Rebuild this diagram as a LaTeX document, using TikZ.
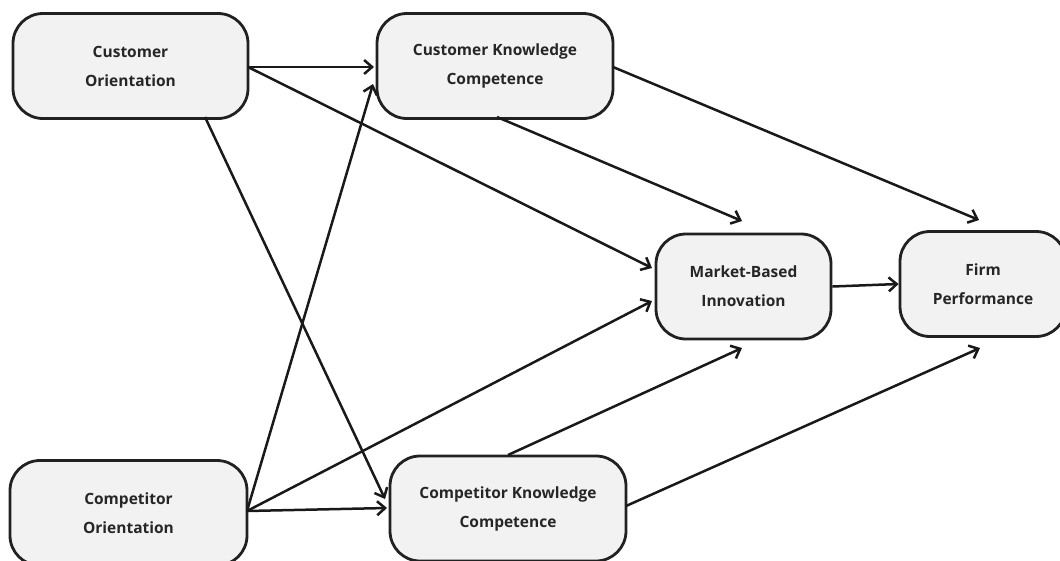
\documentclass[tikz,border=0pt]{standalone}
\usepackage{fontspec}
\setmainfont{Open Sans}[BoldFont={Open Sans Bold}]
\usetikzlibrary{arrows.meta}
\begin{document}
\begin{tikzpicture}[x=1pt,y=-1pt]
\useasboundingbox (0,0) rectangle (1060,560);
\tikzset{
  box/.style={draw=black!87, line width=2.8pt, fill=black!5, rounded corners=30pt,
    minimum height=105pt, align=center, inner sep=0pt,
    font=\bfseries\fontsize{15.5}{29}\selectfont, text=black!85},
  link/.style={draw=black!90, line width=2.5pt,
    -{Straight Barb[length=8pt,width=14pt,line width=2.5pt]}}
}
% constructs
\node[box, minimum width=235pt] (co)   at (130.5,66)    {Customer\\Orientation};
\node[box, minimum width=236pt] (ckc)  at (495,66)      {Customer Knowledge\\Competence};
\node[box, minimum width=175pt] (mbi)  at (743.5,286.5) {Market-Based\\Innovation};
\node[box, minimum width=166pt] (fp)   at (983,284)     {Firm\\Performance};
\node[box, minimum width=237pt] (cpo)  at (128.5,513)   {Competitor\\Orientation};
\node[box, minimum width=236pt] (cpkc) at (508,508.5)   {Competitor Knowledge\\Competence};

% arrow end points beside the boxes
\coordinate (coA)   at (248,67);
\coordinate (coB)   at (205,117);
\coordinate (cpoA)  at (247,511);
\coordinate (ckcL)  at (374,67);
\coordinate (ckcLL) at (373,84);
\coordinate (mbiU)  at (652,268);
\coordinate (mbiD)  at (652,301);
\coordinate (mbiT)  at (742,221);
\coordinate (mbiB)  at (742,348);
\coordinate (fpT)   at (979,220);
\coordinate (fpB)   at (980,348);
\coordinate (cpkcU) at (385,499);
\coordinate (cpkcL) at (387,508);
\coordinate (ckcB)  at (497,117);
\coordinate (ckcR)  at (613,67);
\coordinate (cpkcT) at (508,455);
\coordinate (cpkcR) at (626,506);

% paths
\draw[link] (coA) -- (ckcL);
\draw[link] (coA) -- (mbiU);
\draw[link] (coB) -- (cpkcU);
\draw[link] (cpoA) -- (ckcLL);
\draw[link] (cpoA) -- (mbiD);
\draw[link] (cpoA) -- (cpkcL);
\draw[link] (ckcB) -- (mbiT);
\draw[link] (ckcR) -- (fpT);
\draw[link] (mbi.east) -- (fp.west);
\draw[link] (cpkcT) -- (mbiB);
\draw[link] (cpkcR) -- (fpB);
\end{tikzpicture}
\end{document}
